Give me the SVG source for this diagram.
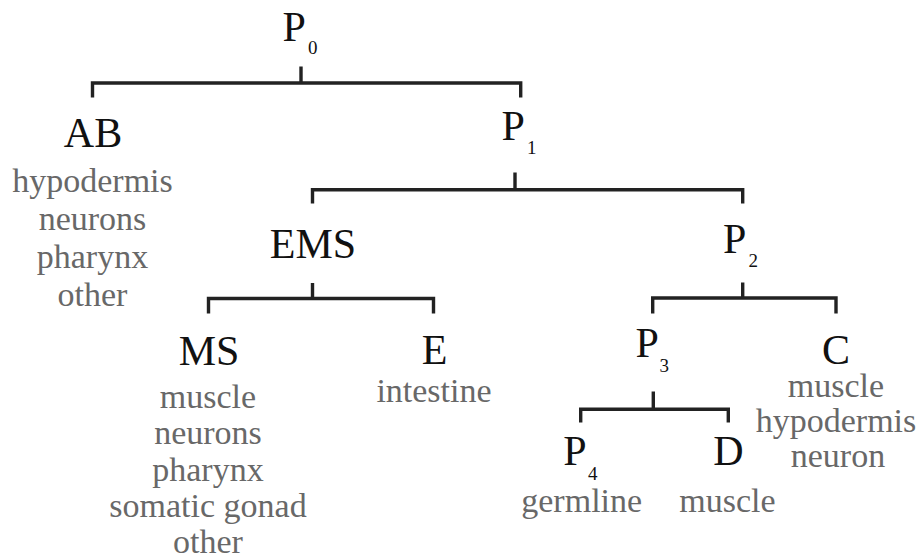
<svg xmlns="http://www.w3.org/2000/svg" width="921" height="559" viewBox="0 0 921 559">
<style>
  .lbl { font-family: "Liberation Serif", "Times New Roman", "DejaVu Serif", serif; font-size: 42px; fill: #111; }
  .sub { font-size: 19px; }
  .cell { font-family: "Liberation Serif", "Times New Roman", "DejaVu Serif", serif; font-size: 34px; fill: #686868; text-anchor: middle; }
  .mid { text-anchor: middle; }
  .br { fill: none; stroke: #222; stroke-width: 3.4; stroke-linejoin: miter; stroke-linecap: butt; }
</style>
<rect width="921" height="559" fill="#fff"/>
<g id="connectors">
  <path class="br" d="M92.5,97.5 V83 H520.7 V97.5 M301,66.5 V83"/>
  <path class="br" d="M312.5,203.5 V189.7 H742.7 V203.5 M515,172.5 V189.7"/>
  <path class="br" d="M208.5,313.5 V298.5 H433.5 V313.5 M312.5,283 V298.5"/>
  <path class="br" d="M652.7,313.5 V298 H836 V313.5 M742.7,282.5 V298"/>
  <path class="br" d="M580.7,422.5 V409.3 H728.3 V422.5 M653.3,391.5 V409.3"/>
</g>
<g id="P0">
  <text class="lbl"><tspan x="282.5" y="40.7">P</tspan><tspan class="sub" x="308" y="54">0</tspan></text>
</g>
<g id="AB">
  <text class="lbl mid" x="93" y="146.7">AB</text>
  <text class="cell" x="92.5" y="192">hypodermis</text>
  <text class="cell" x="92.5" y="230">neurons</text>
  <text class="cell" x="92.5" y="268">pharynx</text>
  <text class="cell" x="92.5" y="306">other</text>
</g>
<g id="P1">
  <text class="lbl"><tspan x="501.5" y="140">P</tspan><tspan class="sub" x="527" y="154">1</tspan></text>
</g>
<g id="EMS">
  <text class="lbl mid" x="313" y="258">EMS</text>
</g>
<g id="P2">
  <text class="lbl"><tspan x="723" y="252.7">P</tspan><tspan class="sub" x="748.5" y="266.7">2</tspan></text>
</g>
<g id="MS">
  <text class="lbl mid" x="209" y="365">MS</text>
  <text class="cell" x="208" y="407.5">muscle</text>
  <text class="cell" x="208" y="444">neurons</text>
  <text class="cell" x="208" y="481">pharynx</text>
  <text class="cell" x="208" y="517">somatic gonad</text>
  <text class="cell" x="208" y="553">other</text>
</g>
<g id="E">
  <text class="lbl mid" x="434.5" y="364">E</text>
  <text class="cell" x="434" y="401.5">intestine</text>
</g>
<g id="P3">
  <text class="lbl"><tspan x="635.5" y="357">P</tspan><tspan class="sub" x="659.5" y="372">3</tspan></text>
</g>
<g id="C">
  <text class="lbl mid" x="836" y="364">C</text>
  <text class="cell" x="836" y="397">muscle</text>
  <text class="cell" x="836" y="432">hypodermis</text>
  <text class="cell" x="838" y="467">neuron</text>
</g>
<g id="P4">
  <text class="lbl"><tspan x="563.3" y="465">P</tspan><tspan class="sub" x="588" y="480">4</tspan></text>
  <text class="cell" x="581.7" y="512">germline</text>
</g>
<g id="D">
  <text class="lbl mid" x="728.3" y="465">D</text>
  <text class="cell" x="727.5" y="512">muscle</text>
</g>
</svg>
